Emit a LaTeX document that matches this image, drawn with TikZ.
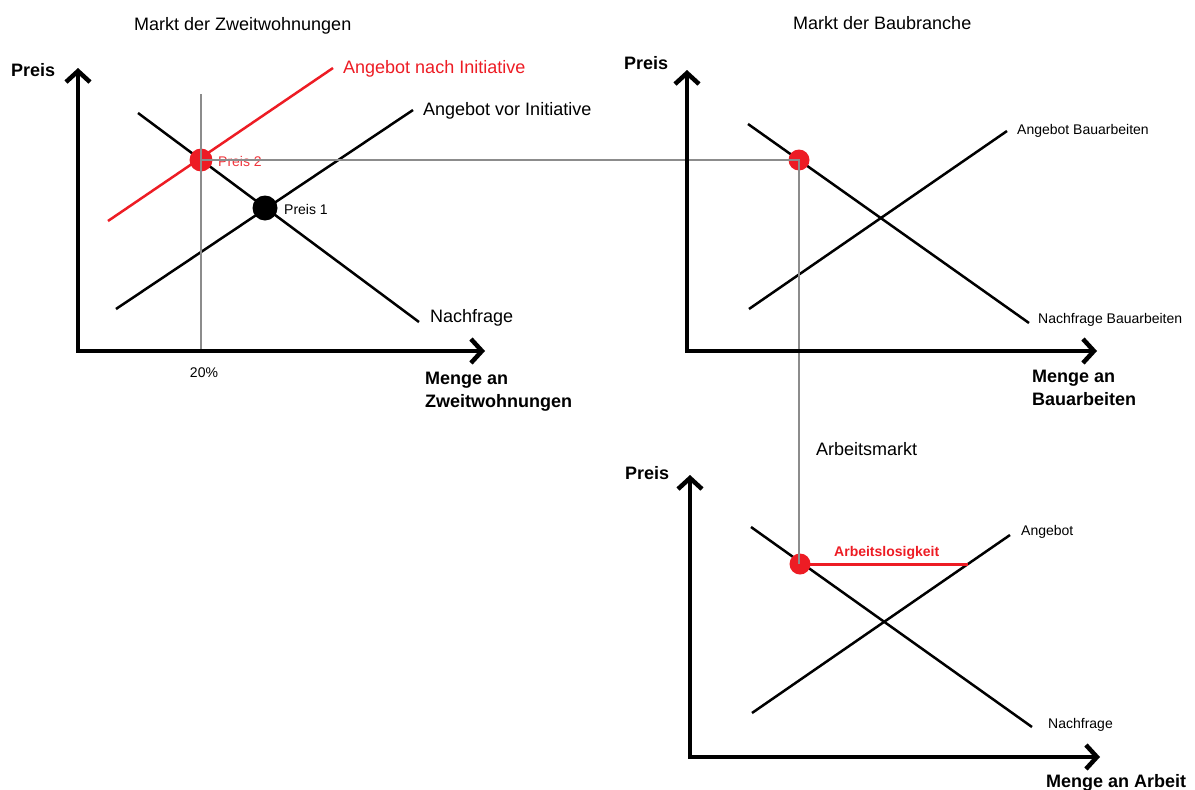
\documentclass[tikz,border=0pt]{standalone}
\usepackage{fontspec}
\setmainfont{Liberation Sans}
\usetikzlibrary{arrows.meta}
\definecolor{pred}{HTML}{ED1C24}
\definecolor{pgray}{HTML}{8C8C8C}
\begin{document}
\begin{tikzpicture}[x=1pt,y=-1pt,
  axisline/.style={line width=4.5pt, line join=miter,
    {Straight Barb[length=11pt,width=24pt]}-{Straight Barb[length=11pt,width=24pt]}},
  curve/.style={line width=2.5pt},
  guide/.style={pgray, line width=2pt},
  lbig/.style={font=\fontsize{18}{22.5}\selectfont, inner sep=0pt, anchor=base west},
  lbigb/.style={font=\fontsize{18}{22.5}\selectfont\bfseries, inner sep=0pt, anchor=base west},
  lsmall/.style={font=\fontsize{14}{16}\selectfont, inner sep=0pt, anchor=base west},
  multib/.style={font=\fontsize{18}{22.5}\selectfont\bfseries, inner sep=0pt, anchor=north west, align=left},
  dotnode/.style={circle, inner sep=0pt, minimum size=#1},
]
\useasboundingbox (0,0) rectangle (1195,790);

% ---------- coordinates ----------
% chart 1
\coordinate (a1y) at (78,68);  \coordinate (a1o) at (78,351);  \coordinate (a1x) at (485,351);
\coordinate (d1s) at (138,113); \coordinate (d1e) at (419,322);
\coordinate (s1s) at (116,309); \coordinate (s1e) at (413,110);
\coordinate (n1s) at (108,221); \coordinate (n1e) at (333,68);
\coordinate (v1t) at (201,94);  \coordinate (v1b) at (201,351);
% chart 2
\coordinate (a2y) at (687,70);  \coordinate (a2o) at (687,351); \coordinate (a2x) at (1097,351);
\coordinate (d2s) at (748,124); \coordinate (d2e) at (1029,323);
\coordinate (s2s) at (749,309); \coordinate (s2e) at (1007,131);
% chart 3
\coordinate (a3y) at (690,475); \coordinate (a3o) at (690,757); \coordinate (a3x) at (1100,757);
\coordinate (d3s) at (751,527); \coordinate (d3e) at (1032,727);
\coordinate (s3s) at (752,713); \coordinate (s3e) at (1010,535);
\coordinate (u3e) at (968,564);

% ---------- curves ----------
\draw[curve] (d1s) -- (d1e);
\draw[curve] (s1s) -- (s1e);
\draw[curve, pred] (n1s) -- (n1e);
\draw[curve] (d2s) -- (d2e);
\draw[curve] (s2s) -- (s2e);
\draw[curve] (d3s) -- (d3e);
\draw[curve] (s3s) -- (s3e);

% ---------- points ----------
\node[dotnode=23pt, fill=pred] (p2) at (201,160) {};
\node[dotnode=25pt, fill=black] (p1) at (265,208) {};
\node[dotnode=21pt, fill=pred] (b2) at (799,160) {};
\node[dotnode=21pt, fill=pred] (l3) at (800,564) {};

% unemployment gap
\draw[pred, line width=3pt] (l3.center) -- (u3e);

% ---------- labels (under guides) ----------
\node[lsmall, text=pred!90] (t_p2) at (218,166) {Preis 2};

% ---------- guide lines ----------
\draw[guide] (v1t) -- (v1b);
\draw[guide] (p2.center) -- (b2.center) -- (b2.center |- l3.center);

% ---------- axes ----------
\draw[axisline] (a1y) -- (a1o) -- (a1x);
\draw[axisline] (a2y) -- (a2o) -- (a2x);
\draw[axisline] (a3y) -- (a3o) -- (a3x);

% ---------- texts ----------
\node[lbig] (title1) at (134,30) {Markt der Zweitwohnungen};
\node[lbigb] (y1) at (11,76) {Preis};
\node[lbig, text=pred] (t_nach) at (343,73) {Angebot nach Initiative};
\node[lbig] (t_vor) at (423,115) {Angebot vor Initiative};
\node[lbig] (t_d1) at (430,322) {Nachfrage};
\node[lsmall] (t_p1) at (284,214) {Preis 1};
\node[lsmall, anchor=base] (t_20) at (204,377) {20\%};
\node[multib] (x1) at (425,372) {Menge an\\Zweitwohnungen};

\node[lbig] (title2) at (793,29) {Markt der Baubranche};
\node[lbigb] (y2) at (624,69) {Preis};
\node[lsmall] (t_s2) at (1017,134) {Angebot Bauarbeiten};
\node[lsmall] (t_d2) at (1038,323) {Nachfrage Bauarbeiten};
\node[multib] (x2) at (1032,370) {Menge an\\Bauarbeiten};

\node[lbig] (title3) at (816,455) {Arbeitsmarkt};
\node[lbigb] (y3) at (625,479) {Preis};
\node[lsmall] (t_s3) at (1021,535) {Angebot};
\node[lsmall, font=\fontsize{14}{16}\selectfont\bfseries, text=pred] (t_al) at (834,556) {Arbeitslosigkeit};
\node[lsmall] (t_d3) at (1048,728) {Nachfrage};
\node[lbigb] (x3) at (1046,787) {Menge an Arbeit};
\end{tikzpicture}
\end{document}
